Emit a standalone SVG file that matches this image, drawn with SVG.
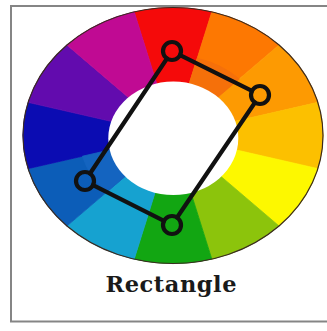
<svg xmlns="http://www.w3.org/2000/svg" width="327" height="331" viewBox="0 0 327 331">
<style>
.seg{stroke-width:0.8;vector-effect:non-scaling-stroke}
.node{fill:none;stroke:#111;stroke-width:4.2}
.conn{stroke:#111;stroke-width:4.2;stroke-linecap:round}
.label{font-family:"DejaVu Serif","Liberation Serif",serif;font-weight:bold;font-size:22.5px;fill:#1a1a1a}
</style>
<rect x="0" y="0" width="327" height="331" fill="#fff"/>
<rect x="11" y="6" width="330" height="315.5" fill="#fff" stroke="#858585" stroke-width="2"/>
<g id="wheel" transform="translate(173,135.5) scale(1.172,1)">
  <path class="seg" fill="#f50a0a" stroke="#f50a0a" d="M0,0 L-33.13,-123.64 A128,128 0 0 1 33.13,-123.64 Z"/>
  <path class="seg" fill="#fd7802" stroke="#fd7802" d="M0,0 L33.13,-123.64 A128,128 0 0 1 90.51,-90.51 Z"/>
  <path class="seg" fill="#fd9a02" stroke="#fd9a02" d="M0,0 L90.51,-90.51 A128,128 0 0 1 123.64,-33.13 Z"/>
  <path class="seg" fill="#fcc000" stroke="#fcc000" d="M0,0 L123.64,-33.13 A128,128 0 0 1 123.64,33.13 Z"/>
  <path class="seg" fill="#fdf800" stroke="#fdf800" d="M0,0 L123.64,33.13 A128,128 0 0 1 90.51,90.51 Z"/>
  <path class="seg" fill="#8cc40c" stroke="#8cc40c" d="M0,0 L90.51,90.51 A128,128 0 0 1 33.13,123.64 Z"/>
  <path class="seg" fill="#12a612" stroke="#12a612" d="M0,0 L33.13,123.64 A128,128 0 0 1 -33.13,123.64 Z"/>
  <path class="seg" fill="#16a2d0" stroke="#16a2d0" d="M0,0 L-33.13,123.64 A128,128 0 0 1 -90.51,90.51 Z"/>
  <path class="seg" fill="#0c5db8" stroke="#0c5db8" d="M0,0 L-90.51,90.51 A128,128 0 0 1 -123.64,33.13 Z"/>
  <path class="seg" fill="#0b0cb2" stroke="#0b0cb2" d="M0,0 L-123.64,33.13 A128,128 0 0 1 -123.64,-33.13 Z"/>
  <path class="seg" fill="#620bae" stroke="#620bae" d="M0,0 L-123.64,-33.13 A128,128 0 0 1 -90.51,-90.51 Z"/>
  <path class="seg" fill="#c00a93" stroke="#c00a93" d="M0,0 L-90.51,-90.51 A128,128 0 0 1 -33.13,-123.64 Z"/>
  <path class="seg" fill="#f5700a" stroke="#f5700a" d="M0,0 L20.71,-77.27 A80,80 0 0 1 56.57,-56.57 Z"/>
  <path class="seg" fill="#1464c0" stroke="#1464c0" d="M0,0 L-56.57,56.57 A80,80 0 0 1 -77.27,20.71 Z"/>
</g>
<ellipse cx="173" cy="135.5" rx="150" ry="128" fill="none" stroke="#3a2a20" stroke-width="1.2"/>
<ellipse id="hole" cx="173.3" cy="138.3" rx="65" ry="56.7" fill="#fff"/>
<g id="connectors">
  <line class="conn" x1="180.05" y1="55.02" x2="251.95" y2="90.98"/>
  <line class="conn" x1="254.95" y1="102.45" x2="177.05" y2="217.55"/>
  <line class="conn" x1="163.97" y1="220.94" x2="93.03" y2="185.06"/>
  <line class="conn" x1="90.01" y1="173.52" x2="166.99" y2="58.48"/>
</g>
<g id="node-top"><circle class="node" cx="172" cy="51" r="9"/></g>
<g id="node-right"><circle class="node" cx="260" cy="95" r="9"/></g>
<g id="node-bottom"><circle class="node" cx="172" cy="225" r="9"/></g>
<g id="node-left"><circle class="node" cx="85" cy="181" r="9"/></g>
<g id="label"><text class="label" x="171" y="292" text-anchor="middle" textLength="131">Rectangle</text></g>
</svg>
